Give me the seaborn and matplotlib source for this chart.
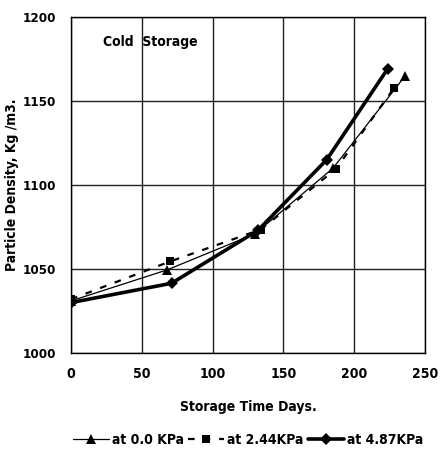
import matplotlib
matplotlib.use("Agg")
import matplotlib.pyplot as plt
import seaborn as sns
import pandas as pd

sns.set_style("white")
plt.rcParams['font.family'] = ['DejaVu Sans']
plt.rcParams['font.stretch'] = 'condensed'
plt.rcParams['font.weight'] = 'bold'
plt.rcParams['text.color'] = 'black'
plt.rcParams['axes.labelcolor'] = 'black'
plt.rcParams['xtick.color'] = 'black'
plt.rcParams['ytick.color'] = 'black'

# data
days_0 = [0, 68, 130, 185, 236]
dens_0 = [1031, 1049.5, 1071, 1110, 1165]
days_244 = [0, 70, 134, 187, 228]
dens_244 = [1032, 1054.5, 1073.5, 1109.5, 1157.5]
days_487 = [0, 71, 132, 180.5, 223.5]
dens_487 = [1030, 1041.5, 1073, 1115, 1169]
labels = ["at 0.0 KPa", "at 2.44KPa", "at 4.87KPa"]
x_ticks = [0, 50, 100, 150, 200, 250]
y_ticks = [1000, 1050, 1100, 1150, 1200]

fig = plt.figure(figsize=(4.4, 4.5), dpi=100)
ax = fig.add_axes([0.1614, 0.2156, 0.8046, 0.7466])

df0 = pd.DataFrame({"x": days_0, "y": dens_0})
df1 = pd.DataFrame({"x": days_244, "y": dens_244})
df2 = pd.DataFrame({"x": days_487, "y": dens_487})

sns.lineplot(data=df0, x="x", y="y", ax=ax, color="black", lw=0.9,
             marker="^", markersize=6.5, markeredgewidth=0, label=labels[0], zorder=4)
sns.lineplot(data=df1, x="x", y="y", ax=ax, color="black", lw=1.6,
             linestyle=(0, (3, 4)), marker="s", markersize=5.5, markeredgewidth=0,
             label=labels[1], zorder=4)
sns.lineplot(data=df2, x="x", y="y", ax=ax, color="black", lw=2.6,
             marker="D", markersize=6, markeredgewidth=0, label=labels[2], zorder=5)

ax.set_xlim(0, 250)
ax.set_ylim(1000, 1200)
ax.set_xticks(x_ticks)
ax.set_yticks(y_ticks)
ax.grid(True, color="#222222", lw=1.0)
for s in ax.spines.values():
    s.set_color("black")
    s.set_linewidth(1.0)
ax.tick_params(axis="both", direction="out", length=4, width=1, color="black",
               labelsize=10, pad=6, labelcolor="black")
ax.tick_params(axis="y", labelsize=9.5, pad=7)
for t in ax.get_xticklabels() + ax.get_yticklabels():
    t.set_fontweight("bold")

ax.set_xlabel("Storage Time Days.", fontsize=10, fontweight="bold", labelpad=14)
ax.set_ylabel("Particle Density, Kg /m3.", fontsize=10, fontweight="bold")
ax.yaxis.set_label_coords(-0.148, 0.5)

ax.text(22.5, 1185, "Cold  Storage", fontsize=10, fontweight="bold", va="center", ha="left")

leg = ax.legend(loc="center", bbox_to_anchor=(0.5, -0.259), ncol=3, frameon=False,
                handlelength=2.6, handletextpad=0.2, columnspacing=0.3,
                prop={"weight": "bold", "size": 10, "stretch": "condensed"})

fig.savefig("out.png", dpi=100, facecolor="white")
